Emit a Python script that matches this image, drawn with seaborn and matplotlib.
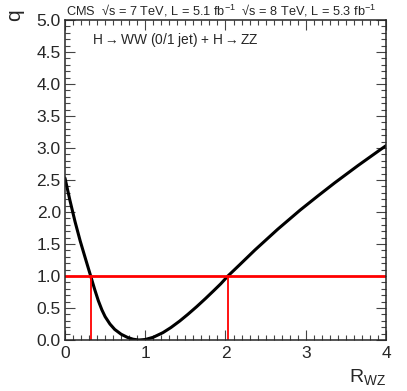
import numpy as np
import pandas as pd
import matplotlib
matplotlib.use('Agg')
import matplotlib.pyplot as plt
from matplotlib.ticker import MultipleLocator
import seaborn as sns

# Scan values
r_wz = [0.0, 0.06, 0.125, 0.19, 0.26, 0.32, 0.37, 0.415, 0.46, 0.50, 0.56, 0.62,
        0.70, 0.78, 0.85, 0.92, 1.0, 1.1, 1.22, 1.32, 1.43, 1.53, 1.64, 1.75,
        1.85, 1.94, 2.03, 2.18, 2.37, 2.65, 2.93, 3.15, 3.36, 3.65, 3.93, 4.0]
q_val = [2.53, 2.19, 1.85, 1.545, 1.25, 1.0, 0.79, 0.615, 0.47, 0.365, 0.25, 0.165,
         0.09, 0.04, 0.012, 0.0, 0.008, 0.043, 0.115, 0.195, 0.297, 0.40, 0.52, 0.647,
         0.767, 0.877, 1.0, 1.18, 1.41, 1.73, 2.03, 2.25, 2.455, 2.725, 2.975, 3.036]

q_level = 1.0
crossings = [0.32, 2.03]

df = pd.DataFrame({'R': r_wz, 'q': q_val})

sns.set_style('ticks')
plt.rcParams['font.family'] = ['Liberation Sans', 'DejaVu Sans']
plt.rcParams['mathtext.fontset'] = 'custom'
plt.rcParams['mathtext.rm'] = 'Liberation Sans'
plt.rcParams['mathtext.it'] = 'Liberation Sans:italic'

fig = plt.figure(figsize=(4.07, 3.91), dpi=100)
ax = fig.add_axes([0.1597, 0.1304, 0.7887, 0.8184])

sns.lineplot(data=df, x='R', y='q', color='black', lw=2.2, ax=ax, sort=False)

ax.axhline(q_level, color='#ff0000', lw=2.0)
for c in crossings:
    ax.plot([c, c], [0, q_level], color='#ff0000', lw=1.3)

ax.set_xlim(0, 4)
ax.set_ylim(0, 5)
ax.xaxis.set_major_locator(MultipleLocator(1))
ax.xaxis.set_minor_locator(MultipleLocator(0.1))
ax.yaxis.set_major_locator(MultipleLocator(0.5))
ax.yaxis.set_minor_locator(MultipleLocator(0.1))
ax.yaxis.set_major_formatter(plt.FormatStrFormatter('%.1f'))

ax.tick_params(which='both', direction='in', top=True, right=True,
               color='#444444', width=0.8)
ax.tick_params(which='major', length=7, labelsize=12.5)
ax.tick_params(which='minor', length=3.5)
ax.tick_params(axis='x', which='major', pad=4)
ax.tick_params(axis='y', which='major', pad=3)
for s in ax.spines.values():
    s.set_visible(True)
    s.set_linewidth(1.1)

ax.set_xlabel(r'R$_{\mathregular{WZ}}$', fontsize=14, loc='right')
ax.xaxis.set_label_coords(1.0, -0.085)
ax.set_ylabel('')
fig.text(15 / 407, 1 - 15 / 391, 'q', fontsize=15, rotation=90,
         ha='center', va='center')

ax.text(0.003, 1.004, r'CMS  √s = 7 TeV, L = 5.1 fb$^{-1}$  √s = 8 TeV, L = 5.3 fb$^{-1}$',
        transform=ax.transAxes, fontsize=9.2, ha='left', va='bottom')
ax.text(0.084, 0.9375, r'H$\rightarrow$WW (0/1 jet) + H$\rightarrow$ZZ',
        transform=ax.transAxes, fontsize=9.9, ha='left', va='center')

fig.savefig('out.png', dpi=100)
